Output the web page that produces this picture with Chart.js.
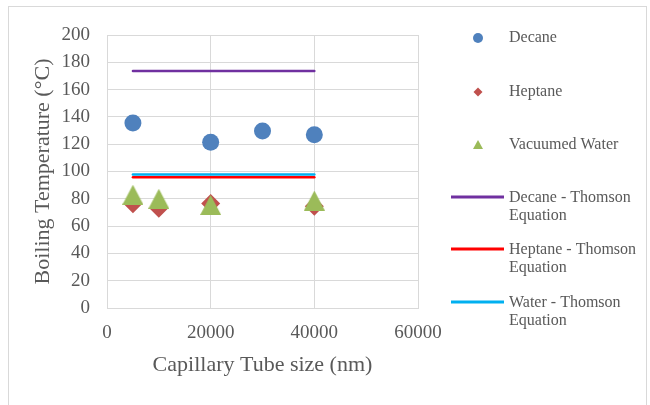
<!DOCTYPE html>
<html>
<head>
<meta charset="utf-8">
<script src="https://cdn.jsdelivr.net/npm/chart.js@4/dist/chart.umd.min.js"></script>
<style>
  html, body { margin: 0; padding: 0; background: #ffffff; }
  #wrap { width: 650px; height: 405px; position: relative; }
</style>
</head>
<body>
<div id="wrap"><canvas id="c" width="650" height="405"></canvas></div>
<script>
// Capillary tube size (nm) and measured boiling temperatures (°C)
const decaneSizes = [5000, 20000, 30000, 40000];
const decaneTemps = [135.5, 121.5, 129.7, 127];
const heptaneSizes = [5000, 10000, 20000, 40000];
const heptaneTemps = [76.3, 73, 76.5, 74.5];
const waterSizes = [5000, 10000, 20000, 40000];
const waterTemps = [83, 80, 75.5, 78.7];

// Thomson-equation predictions over the tested size range
const thomsonSizes = [5000, 40000];
const decaneThomson = [173.6, 173.6];
const heptaneThomson = [95.8, 95.8];
const waterThomson = [97.8, 97.8];

const xTicks = [0, 20000, 40000, 60000];
const yTicks = [0, 20, 40, 60, 80, 100, 120, 140, 160, 180, 200];

const FONT = '"Liberation Serif", "Times New Roman", serif';
const TEXT = '#595959';
const GRID = '#d9d9d9';

const C_DEC = '#4F81BD', C_HEP = '#C0504D', C_WAT = '#9BBB59';
const C_DEC_T = '#7030A0', C_HEP_T = '#FF0000', C_WAT_T = '#00B0F0';

function pts(xs, ys) { return xs.map((x, i) => ({ x: x, y: ys[i] })); }

// Triangle marker centred on its bounding box
function triangleImage(w, h, color) {
  const cv = document.createElement('canvas');
  cv.width = w; cv.height = h;
  const g = cv.getContext('2d');
  g.fillStyle = color;
  g.beginPath();
  g.moveTo(w / 2, 0);
  g.lineTo(w, h);
  g.lineTo(0, h);
  g.closePath();
  g.fill();
  return cv;
}
const triMarker = triangleImage(21, 20, C_WAT);

// Legend drawn at the right side of the chart
const legendItems = [
  { type: 'circle', color: C_DEC, lines: ['Decane'], y: 38 },
  { type: 'diamond', color: C_HEP, lines: ['Heptane'], y: 92 },
  { type: 'triangle', color: C_WAT, lines: ['Vacuumed Water'], y: 145 },
  { type: 'line', color: C_DEC_T, lines: ['Decane - Thomson', 'Equation'], y: 198 },
  { type: 'line', color: C_HEP_T, lines: ['Heptane - Thomson', 'Equation'], y: 250 },
  { type: 'line', color: C_WAT_T, lines: ['Water - Thomson', 'Equation'], y: 303 }
];

const sideLegend = {
  id: 'sideLegend',
  beforeDraw(chart) {
    const ctx = chart.ctx;
    ctx.save();
    ctx.fillStyle = '#ffffff';
    ctx.fillRect(0, 0, chart.width, chart.height);
    ctx.strokeStyle = GRID;
    ctx.lineWidth = 1;
    ctx.strokeRect(8.5, 6.5, 638, 430);
    ctx.restore();
  },
  afterDraw(chart) {
    const ctx = chart.ctx;
    ctx.save();
    const mx = 478, tx = 509;
    legendItems.forEach(it => {
      ctx.fillStyle = it.color;
      ctx.strokeStyle = it.color;
      const y = it.y;
      if (it.type === 'circle') {
        ctx.beginPath(); ctx.arc(mx, y, 5, 0, Math.PI * 2); ctx.fill();
      } else if (it.type === 'diamond') {
        ctx.beginPath();
        ctx.moveTo(mx, y - 4.5); ctx.lineTo(mx + 4.5, y); ctx.lineTo(mx, y + 4.5); ctx.lineTo(mx - 4.5, y);
        ctx.closePath(); ctx.fill();
      } else if (it.type === 'triangle') {
        ctx.beginPath();
        ctx.moveTo(mx, y - 5); ctx.lineTo(mx + 5, y + 4); ctx.lineTo(mx - 5, y + 4);
        ctx.closePath(); ctx.fill();
      } else {
        ctx.lineWidth = 3;
        ctx.beginPath(); ctx.moveTo(451, y - 1); ctx.lineTo(504, y - 1); ctx.stroke();
      }
      ctx.fillStyle = TEXT;
      ctx.font = '16px ' + FONT;
      ctx.textAlign = 'left';
      ctx.textBaseline = 'middle';
      it.lines.forEach((t, i) => ctx.fillText(t, tx, y + i * 18));
    });
    ctx.restore();
  }
};

new Chart(document.getElementById('c'), {
  type: 'scatter',
  data: {
    datasets: [
      { label: 'Decane', data: pts(decaneSizes, decaneTemps), order: 2,
        pointStyle: 'circle', pointRadius: 8.5, pointBackgroundColor: C_DEC, pointBorderWidth: 0, showLine: false },
      { label: 'Heptane', data: pts(heptaneSizes, heptaneTemps), order: 1,
        pointStyle: 'rectRot', pointRadius: 9.5, pointBackgroundColor: C_HEP, pointBorderWidth: 0, showLine: false },
      { label: 'Vacuumed Water', data: pts(waterSizes, waterTemps), order: 0,
        pointStyle: triMarker, pointRadius: 10, pointBackgroundColor: C_WAT, pointBorderWidth: 0, showLine: false },
      { label: 'Decane - Thomson Equation', data: pts(thomsonSizes, decaneThomson), order: 5,
        showLine: true, borderColor: C_DEC_T, borderWidth: 2.5, pointRadius: 0, borderCapStyle: 'round' },
      { label: 'Heptane - Thomson Equation', data: pts(thomsonSizes, heptaneThomson), order: 3,
        showLine: true, borderColor: C_HEP_T, borderWidth: 2.5, pointRadius: 0, borderCapStyle: 'round' },
      { label: 'Water - Thomson Equation', data: pts(thomsonSizes, waterThomson), order: 4,
        showLine: true, borderColor: C_WAT_T, borderWidth: 2.5, pointRadius: 0, borderCapStyle: 'round' }
    ]
  },
  options: {
    responsive: false,
    animation: false,
    layout: { padding: { left: 0, top: 35, right: 232, bottom: 0 } },
    plugins: { legend: { display: false }, tooltip: { enabled: false } },
    scales: {
      x: {
        type: 'linear', min: 0, max: 60000,
        afterBuildTicks(s) { s.ticks = xTicks.map(v => ({ value: v })); },
        afterFit(s) { s.height = 97; },
        ticks: { color: TEXT, font: { family: FONT, size: 19 }, padding: 14, callback: v => String(v) },
        grid: { color: GRID, drawTicks: false },
        border: { color: GRID },
        title: { display: true, text: 'Capillary Tube size (nm)', color: TEXT,
          font: { family: FONT, size: 22 }, padding: { top: 0, bottom: 27 } }
      },
      y: {
        type: 'linear', min: 0, max: 200,
        afterBuildTicks(s) { s.ticks = yTicks.map(v => ({ value: v })); },
        afterFit(s) { s.width = 107; },
        ticks: { color: TEXT, font: { family: FONT, size: 19 }, padding: 17, callback: v => String(v) },
        grid: { color: GRID, drawTicks: false },
        border: { color: GRID },
        title: { display: true, text: 'Boiling Temperature (°C)', color: TEXT,
          font: { family: FONT, size: 22 }, padding: { top: 30, bottom: 0 } }
      }
    }
  },
  plugins: [sideLegend]
});
</script>
</body>
</html>
